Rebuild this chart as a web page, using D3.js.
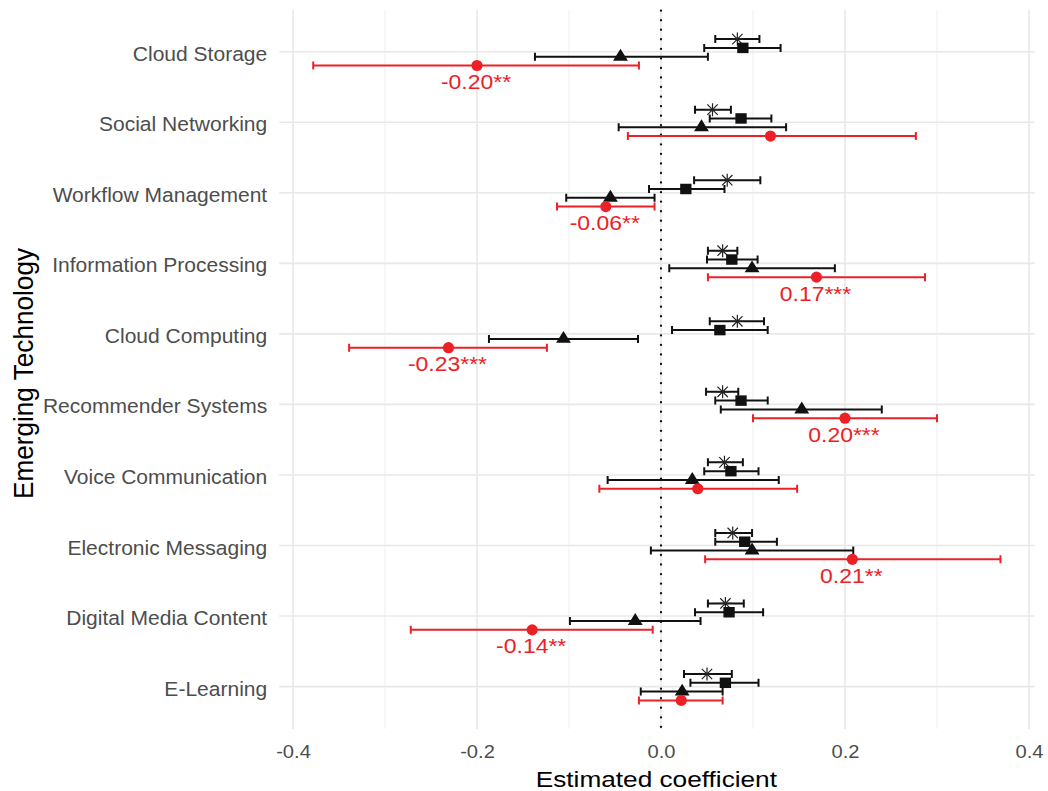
<!DOCTYPE html>
<html>
<head>
<meta charset="utf-8">
<script src="https://cdn.jsdelivr.net/npm/d3@7/dist/d3.min.js"></script>
<style>
  html, body { margin: 0; padding: 0; background: #ffffff; }
  svg { display: block; }
  text { font-family: "Liberation Sans", Arial, Helvetica, sans-serif; }
</style>
</head>
<body>
<svg id="chart" width="1048" height="791"></svg>
<script>
// ---------------- DATA ----------------
const categories = [
  "Cloud Storage", "Social Networking", "Workflow Management", "Information Processing",
  "Cloud Computing", "Recommender Systems", "Voice Communication", "Electronic Messaging",
  "Digital Media Content", "E-Learning"
];

// series drawn with asterisk markers (top of each group)
const starEst   = [0.083, 0.056, 0.072, 0.067, 0.083, 0.067, 0.069, 0.078, 0.070, 0.050];
const starLow   = [0.059, 0.037, 0.036, 0.051, 0.053, 0.049, 0.051, 0.059, 0.051, 0.025];
const starHigh  = [0.107, 0.076, 0.108, 0.083, 0.112, 0.084, 0.089, 0.099, 0.090, 0.077];

// series drawn with square markers
const squareEst  = [0.089, 0.087, 0.027, 0.077, 0.064, 0.087, 0.076, 0.091, 0.074, 0.070];
const squareLow  = [0.047, 0.053, -0.013, 0.050, 0.012, 0.059, 0.047, 0.059, 0.037, 0.032];
const squareHigh = [0.130, 0.120, 0.069, 0.105, 0.116, 0.116, 0.106, 0.126, 0.111, 0.106];

// series drawn with triangle markers
const triEst  = [-0.044, 0.044, -0.055, 0.099, -0.106, 0.153, 0.034, 0.099, -0.028, 0.023];
const triLow  = [-0.137, -0.046, -0.103, 0.009, -0.187, 0.065, -0.058, -0.011, -0.099, -0.022];
const triHigh = [0.051, 0.136, -0.007, 0.189, -0.025, 0.240, 0.128, 0.209, 0.043, 0.067];

// series drawn with red circles (bottom of each group)
const circEst  = [-0.200, 0.119, -0.060, 0.169, -0.231, 0.200, 0.040, 0.208, -0.140, 0.022];
const circLow  = [-0.378, -0.036, -0.113, 0.051, -0.339, 0.100, -0.067, 0.048, -0.272, -0.024];
const circHigh = [-0.024, 0.277, -0.007, 0.287, -0.124, 0.300, 0.148, 0.369, -0.009, 0.067];
const circLabels = ["-0.20**", null, "-0.06**", "0.17***", "-0.23***", "0.20***", null, "0.21**", "-0.14**", null];

const xMajorTicks = [-0.4, -0.2, 0.0, 0.2, 0.4];
const xMinorTicks = [-0.3, -0.1, 0.1, 0.3];
const xTitle = "Estimated coefficient";
const yTitle = "Emerging Technology";

// ---------------- LAYOUT ----------------
const RED = "#ec2127";
const SX = 1.15; // horizontal text stretch of the reference
const panel = { left: 279.2, right: 1034.5, top: 9.4, bottom: 728.9 };

const svg = d3.select("#chart");

const x = d3.scaleLinear().domain([-0.415, 0.406]).range([panel.left, panel.right]);
const y = d3.scalePoint().domain(categories).range([51.7, 686.6]);

// grid
const grid = svg.append("g");
grid.selectAll("line.minor").data(xMinorTicks).join("line")
  .attr("x1", d => x(d)).attr("x2", d => x(d))
  .attr("y1", panel.top).attr("y2", panel.bottom)
  .attr("stroke", "#ededed").attr("stroke-width", 0.9);
grid.selectAll("line.major").data(xMajorTicks).join("line")
  .attr("x1", d => x(d)).attr("x2", d => x(d))
  .attr("y1", panel.top).attr("y2", panel.bottom)
  .attr("stroke", "#e8e8e8").attr("stroke-width", 1.6);
grid.selectAll("line.hmajor").data(categories).join("line")
  .attr("x1", panel.left).attr("x2", panel.right)
  .attr("y1", d => y(d)).attr("y2", d => y(d))
  .attr("stroke", "#e8e8e8").attr("stroke-width", 1.6);

// zero reference line (dotted)
svg.append("line")
  .attr("x1", x(0)).attr("x2", x(0))
  .attr("y1", panel.top + 1.2).attr("y2", panel.bottom)
  .attr("stroke", "#111").attr("stroke-width", 2.3)
  .attr("stroke-linecap", "round")
  .attr("stroke-dasharray", "0.1,9.45");

// series definitions
const series = [
  { est: starEst,   low: starLow,   high: starHigh,   off: -12.6, color: "#111", shape: "star" },
  { est: squareEst, low: squareLow, high: squareHigh, off: -3.8,  color: "#111", shape: "square" },
  { est: triEst,    low: triLow,    high: triHigh,    off: 5.0,   color: "#111", shape: "triangle" },
  { est: circEst,   low: circLow,   high: circHigh,   off: 13.8,  color: RED,    shape: "circle" }
];

const capH = 4.0;
series.forEach(s => {
  const rows = categories.map((c, i) => ({ c, est: s.est[i], low: s.low[i], high: s.high[i], yy: y(c) + s.off }));
  const g = svg.append("g");
  // error bars
  g.selectAll("path.eb").data(rows).join("path")
    .attr("d", d => {
      const x0 = x(d.low), x1 = x(d.high), yy = d.yy;
      return `M${x0},${yy}H${x1}M${x0},${yy - capH}V${yy + capH}M${x1},${yy - capH}V${yy + capH}`;
    })
    .attr("fill", "none").attr("stroke", s.color).attr("stroke-width", 2.0);
  // markers
  if (s.shape === "circle") {
    g.selectAll("circle").data(rows).join("circle")
      .attr("cx", d => x(d.est)).attr("cy", d => d.yy).attr("r", 5.6)
      .attr("fill", s.color);
  } else if (s.shape === "square") {
    g.selectAll("path.m").data(rows).join("path")
      .attr("transform", d => `translate(${x(d.est)},${d.yy}) scale(1.08,1)`)
      .attr("d", d3.symbol(d3.symbolSquare, 110)())
      .attr("fill", s.color);
  } else if (s.shape === "triangle") {
    g.selectAll("path.m").data(rows).join("path")
      .attr("transform", d => `translate(${x(d.est)},${d.yy}) scale(1.08,1)`)
      .attr("d", d3.symbol(d3.symbolTriangle, 82)())
      .attr("fill", s.color);
  } else {
    const r = 6.5, q = 5.2;
    const starPath = `M0,${-r}V${r}M${-r},0H${r}M${-q},${-q}L${q},${q}M${-q},${q}L${q},${-q}`;
    g.selectAll("path.m").data(rows).join("path")
      .attr("transform", d => `translate(${x(d.est)},${d.yy})`)
      .attr("d", starPath)
      .attr("fill", "none").attr("stroke", "#222").attr("stroke-width", 1.2);
  }
  // labels
  if (s.shape === "circle") {
    g.selectAll("text").data(rows.map((d, i) => ({ ...d, label: circLabels[i] })).filter(d => d.label))
      .join("text")
      .attr("transform", d => `translate(${x(d.est) - 1},${d.yy + 23.5}) scale(1.12,1)`)
      .attr("text-anchor", "middle")
      .attr("font-size", 20.5)
      .attr("fill", RED)
      .text(d => d.label);
  }
});

// x axis (labels only)
const xAxis = svg.append("g")
  .attr("transform", `translate(0,${panel.bottom})`)
  .call(d3.axisBottom(x).tickValues(xMajorTicks).tickSize(0)
        .tickFormat(d => d3.format(".1f")(d).replace("\u2212", "-")));
xAxis.select(".domain").remove();
xAxis.selectAll("text")
  .attr("y", 29.4).attr("dy", null)
  .attr("transform", `scale(${SX},1)`)
  .attr("font-size", 17.5)
  .attr("font-family", '"Liberation Sans", Arial, sans-serif')
  .attr("fill", "#4d4d4d");

// y axis (labels only)
const yAxis = svg.append("g")
  .attr("transform", `translate(${panel.left},0)`)
  .call(d3.axisLeft(y).tickSize(0).tickPadding(0));
yAxis.select(".domain").remove();
yAxis.selectAll("text")
  .attr("x", -11).attr("dy", null).attr("y", 8.5)
  .attr("transform", "scale(1.09,1)")
  .attr("font-size", 19.3)
  .attr("font-family", '"Liberation Sans", Arial, sans-serif')
  .attr("fill", "#4d4d4d");

// axis titles
svg.append("text")
  .attr("transform", `translate(${(panel.left + panel.right) / 2 - 0.5},787) scale(${SX},1)`)
  .attr("text-anchor", "middle")
  .attr("font-size", 22.8)
  .attr("fill", "#000")
  .text(xTitle);

svg.append("text")
  .attr("transform", `translate(33,373.5) rotate(-90) scale(1.09,1.12)`)
  .attr("text-anchor", "middle")
  .attr("font-size", 24)
  .attr("fill", "#000")
  .text(yTitle);
</script>
</body>
</html>
